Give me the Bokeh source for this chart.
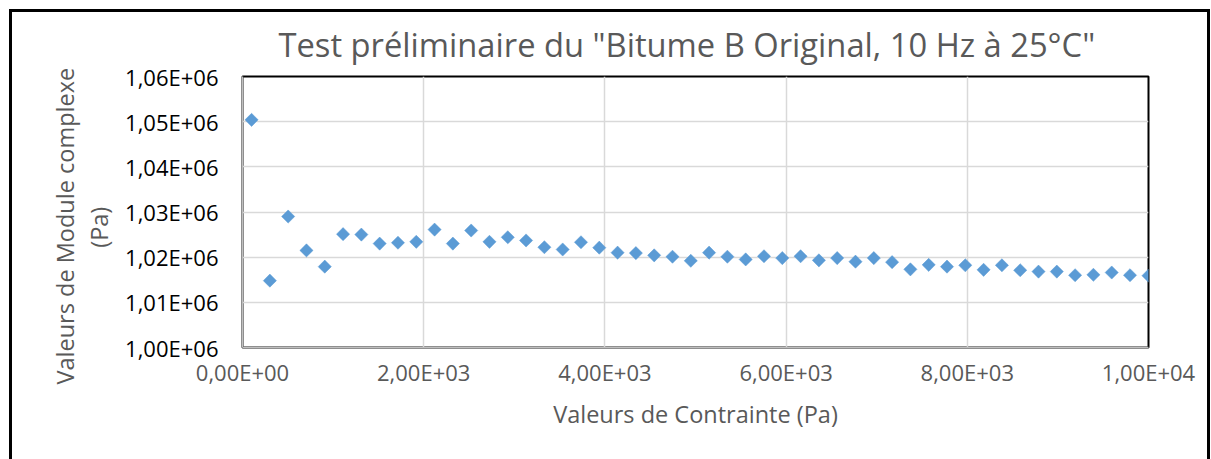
import numpy as np
from bokeh.plotting import figure
from bokeh.models import (ColumnDataSource, CustomJSTickFormatter, FixedTicker, Range1d, Title)
from bokeh.embed import file_html
from bokeh.resources import INLINE

# Data
contrainte_pa = [100, 302, 504, 706, 908, 1110, 1312, 1514, 1716, 1918,
                 2120, 2322, 2524, 2726, 2928, 3130, 3332, 3534, 3736, 3938,
                 4140, 4342, 4544, 4746, 4948, 5150, 5352, 5554, 5756, 5958,
                 6160, 6362, 6564, 6766, 6968, 7170, 7372, 7574, 7776, 7978,
                 8180, 8382, 8584, 8786, 8988, 9190, 9392, 9594, 9796, 10000]
module_pa = [1050400, 1014800, 1029000, 1021500, 1017900, 1025100, 1025000, 1023000, 1023200, 1023400,
             1026100, 1023000, 1025900, 1023400, 1024400, 1023700, 1022200, 1021700, 1023300, 1022100,
             1021000, 1020900, 1020400, 1020100, 1019200, 1021000, 1020100, 1019500, 1020200, 1019800,
             1020200, 1019300, 1019800, 1019000, 1019800, 1018900, 1017300, 1018300, 1017900, 1018200,
             1017200, 1018200, 1017100, 1016800, 1016800, 1016000, 1016100, 1016600, 1016000, 1015900]

x_ticks = [0, 2000, 4000, 6000, 8000, 10000]
y_ticks = [1000000, 1010000, 1020000, 1030000, 1040000, 1050000, 1060000]

title_text = 'Test préliminaire du "Bitume B Original, 10 Hz à 25°C"'
x_label = "Valeurs de Contrainte (Pa)"
y_label_line1 = "Valeurs de Module complexe"
y_label_line2 = "(Pa)"

FONT = "Open Sans"
GREY = "#595959"

p = figure(width=1211, height=459, output_backend="svg", toolbar_location=None,
           x_range=Range1d(0, 10000), y_range=Range1d(1000000, 1060000),
           min_border_left=242, min_border_right=63, min_border_top=76, min_border_bottom=112,
           title=title_text)
# outer chart-area border drawn as inset shadows (bottom edge lies below the window)
p.styles = {"box-shadow": "inset 9px 9px 0 0 #fff, inset -1px 0 0 0 #fff, "
                          "inset 12px 12px 0 0 #000, inset -4px 0 0 0 #000",
            "background-color": "white"}

p.title.align = "left"
p.title.offset = 36
p.title.text_font = FONT
p.title.text_font_size = "32.7px"
p.title.text_font_style = "normal"
p.title.text_color = GREY
p.title.standoff = 19

p.background_fill_color = "white"
p.border_fill_alpha = 0
p.outline_line_color = "black"
p.outline_line_width = 2

fmt = CustomJSTickFormatter(code="""
var s = Number(tick).toExponential(2);
var parts = s.split('e');
var m = parts[0].replace('.', ',');
var ex = parseInt(parts[1]);
var sign = ex < 0 ? '-' : '+';
var a = Math.abs(ex);
return m + 'E' + sign + (a < 10 ? '0' + a : '' + a);
""")

for ax in (p.xaxis[0], p.yaxis[0]):
    ax.formatter = fmt
    ax.major_tick_in = 0
    ax.major_tick_out = 0
    ax.minor_tick_in = 0
    ax.minor_tick_out = 0
    ax.axis_line_color = "#bfbfbf"
    ax.axis_line_width = 1.5
    ax.major_label_text_font = FONT
    ax.major_label_text_font_size = "22px"
    ax.axis_label_text_font = FONT
    ax.axis_label_text_font_size = "23.5px"
    ax.axis_label_text_font_style = "normal"
    ax.axis_label_text_color = GREY

p.xaxis.ticker = FixedTicker(ticks=x_ticks)
p.yaxis.ticker = FixedTicker(ticks=y_ticks)
p.xaxis.major_label_text_color = GREY
p.yaxis.major_label_text_color = "#000000"
p.xaxis.major_label_standoff = 9
p.yaxis.major_label_standoff = 24
p.xaxis.axis_label = x_label
p.xaxis.axis_label_standoff = 8

# y-axis title on two lines; second line is the axis label, padded so that it sits
# a little below the plot-area centre like the first line
p.yaxis.axis_label = y_label_line2 + "\u00a0" * 5
p.yaxis.axis_label_standoff = 7
ytitle1 = Title(text=y_label_line1, align="left", offset=-37, vertical_align="bottom",
                text_font=FONT, text_font_size="23.5px", text_font_style="normal",
                text_color=GREY, standoff=0)
p.add_layout(ytitle1, "left")

p.xgrid.ticker = FixedTicker(ticks=x_ticks)
p.ygrid.ticker = FixedTicker(ticks=y_ticks)
p.grid.grid_line_color = "#d9d9d9"
p.grid.grid_line_width = 1.5

src = ColumnDataSource(data=dict(x=contrainte_pa, y=module_pa))
p.scatter("x", "y", source=src, marker="square", size=9.3, angle=np.pi / 4,
          fill_color="#5b9bd5", line_color="#5b9bd5", line_width=0.5)

open("out.html", "w").write(file_html(p, INLINE))
